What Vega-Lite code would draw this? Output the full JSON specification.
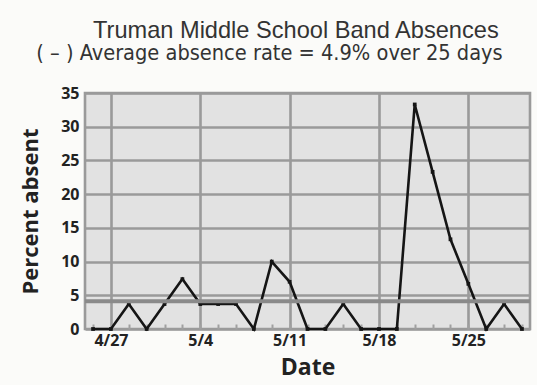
{
  "$schema": "https://vega.github.io/schema/vega-lite/v6.json",
  "background": "#fbfbf9",
  "padding": {"left": 18, "top": 18, "right": 8, "bottom": 4},
  "title": {
    "text": "Truman Middle School Band Absences",
    "font": "Liberation Sans",
    "fontSize": 23.6,
    "fontWeight": "normal",
    "color": "#333333",
    "anchor": "middle",
    "dx": 20,
    "offset": 0
  },
  "vconcat": [
    {
      "title": {
        "text": "( – ) Average absence rate = 4.9% over 25 days",
        "font": "DejaVu Sans Condensed",
        "fontSize": 21.6,
        "fontWeight": "normal",
        "color": "#333333",
        "anchor": "middle",
        "dx": -38,
        "offset": 20
      },
      "width": 445,
      "height": 236,
      "layer": [
        {
          "data": {
            "values": [
              {"date": "4/24", "pct": 0},
              {"date": "4/27", "pct": 0},
              {"date": "4/28", "pct": 3.7},
              {"date": "4/29", "pct": 0},
              {"date": "4/30", "pct": 3.7},
              {"date": "5/1", "pct": 7.4},
              {"date": "5/4", "pct": 3.7},
              {"date": "5/5", "pct": 3.7},
              {"date": "5/6", "pct": 3.7},
              {"date": "5/7", "pct": 0},
              {"date": "5/8", "pct": 10},
              {"date": "5/11", "pct": 7},
              {"date": "5/12", "pct": 0},
              {"date": "5/13", "pct": 0},
              {"date": "5/14", "pct": 3.7},
              {"date": "5/15", "pct": 0},
              {"date": "5/18", "pct": 0},
              {"date": "5/19", "pct": 0},
              {"date": "5/20", "pct": 33.3},
              {"date": "5/21", "pct": 23.3},
              {"date": "5/22", "pct": 13.3},
              {"date": "5/25", "pct": 6.7},
              {"date": "5/26", "pct": 0},
              {"date": "5/27", "pct": 3.7},
              {"date": "5/28", "pct": 0}
            ]
          },
          "mark": {
            "type": "line",
            "color": "#151515",
            "strokeWidth": 2.6,
            "point": {"filled": true, "shape": "square", "size": 14, "color": "#151515"}
          },
          "encoding": {
            "x": {
              "field": "date",
              "type": "ordinal",
              "sort": null,
              "scale": {"type": "point", "padding": 0.45},
              "axis": {
                "title": "Date",
                "titleFont": "Open Sans",
                "titleFontSize": 23,
                "titleFontWeight": "bold",
                "titleColor": "#222222",
                "titlePadding": 8,
                "labelFont": "Open Sans",
                "labelFontSize": 16,
                "labelFontWeight": "bold",
                "labelColor": "#222222",
                "labelAngle": 0,
                "labelPadding": 8,
                "labelExpr": "indexof(['4/27','5/4','5/11','5/18','5/25'], datum.value) >= 0 ? datum.value : ''",
                "domain": false,
                "ticks": true,
                "tickSize": -5,
                "tickWidth": 2,
                "tickColor": "#a0a0a0",
                "grid": true,
                "gridColor": "#9a9a9a",
                "gridWidth": 2.6,
                "gridOpacity": {
                  "condition": {"test": "indexof(['4/27','5/4','5/11','5/18','5/25'], datum.value) >= 0", "value": 1},
                  "value": 0
                }
              }
            },
            "y": {
              "field": "pct",
              "type": "quantitative",
              "scale": {"domain": [0, 35], "nice": false},
              "axis": {
                "title": "Percent absent",
                "values": [0, 5, 10, 15, 20, 25, 30, 35]
              }
            }
          }
        },
        {
          "data": {"values": [{"average": 4.1}]},
          "mark": {"type": "rule", "color": "#8a8a8a", "strokeWidth": 4},
          "encoding": {
            "y": {
              "field": "average",
              "type": "quantitative",
              "axis": {
                "title": "Percent absent",
                "values": [0, 5, 10, 15, 20, 25, 30, 35]
              }
            }
          }
        }
      ]
    }
  ],
  "config": {
    "view": {"fill": "#e2e2e2", "stroke": "#9a9a9a", "strokeWidth": 2.6},
    "axisY": {
      "titleFont": "Open Sans",
      "titleFontSize": 22,
      "titleFontWeight": "bold",
      "titleColor": "#222222",
      "titlePadding": 18,
      "labelFont": "Open Sans",
      "labelFontSize": 16,
      "labelFontWeight": "bold",
      "labelColor": "#222222",
      "labelPadding": 6,
      "labelOverlap": false,
      "domain": false,
      "ticks": false,
      "grid": true,
      "gridColor": "#9a9a9a",
      "gridWidth": 2.6
    }
  }
}
